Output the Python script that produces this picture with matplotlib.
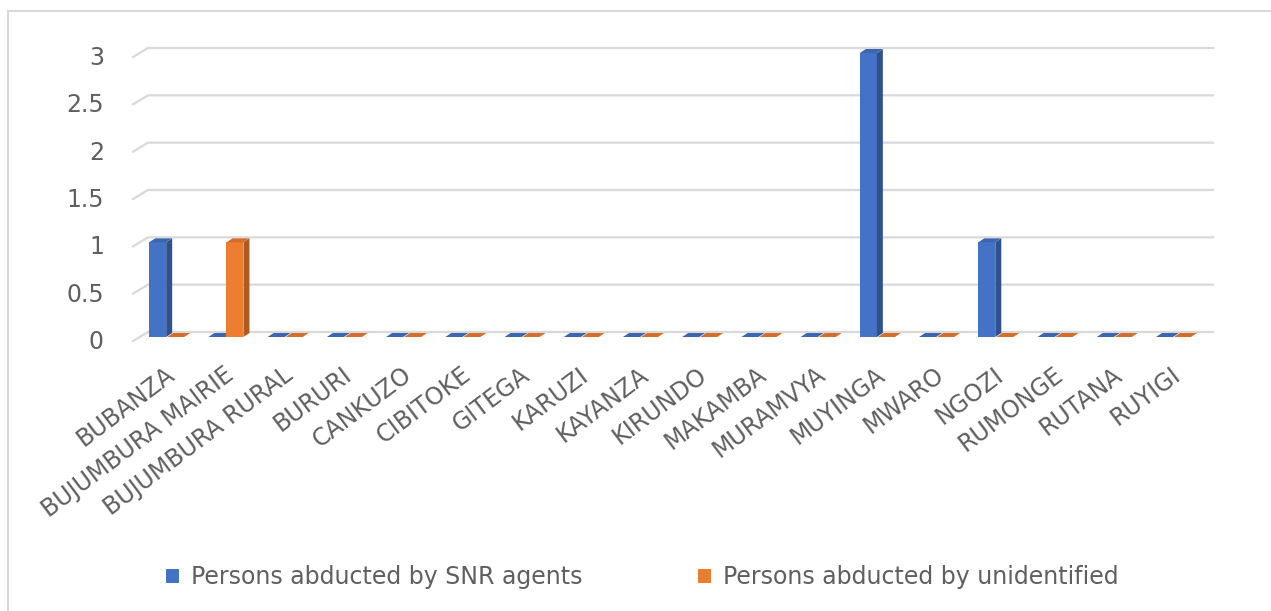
import numpy as np
import matplotlib.pyplot as plt
from matplotlib.patches import Polygon, Patch, Rectangle
import matplotlib.transforms as mtransforms

# data
provinces = ['BUBANZA', 'BUJUMBURA MAIRIE', 'BUJUMBURA RURAL', 'BURURI', 'CANKUZO',
             'CIBITOKE', 'GITEGA', 'KARUZI', 'KAYANZA', 'KIRUNDO', 'MAKAMBA',
             'MURAMVYA', 'MUYINGA', 'MWARO', 'NGOZI', 'RUMONGE', 'RUTANA', 'RUYIGI']
snr_agents = [1, 0, 0, 0, 0, 0, 0, 0, 0, 0, 0, 0, 3, 0, 1, 0, 0, 0]
unidentified = [0, 1, 0, 0, 0, 0, 0, 0, 0, 0, 0, 0, 0, 0, 0, 0, 0, 0]
yticks = [0, 0.5, 1, 1.5, 2, 2.5, 3]
ytick_labels = ['0', '0.5', '1', '1.5', '2', '2.5', '3']
series_names = ['Persons abducted by SNR agents', 'Persons abducted by unidentified']

W, H = 1271, 611
fig = plt.figure(figsize=(W / 100, H / 100), dpi=100)
plt.rcParams['font.family'] = ['DejaVu Sans']

# plot area (pixels from top-left)
left_px, right_px = 140, 1206
zero_px, top_px = 337, 53
ax = fig.add_axes([left_px / W, 1 - zero_px / H, (right_px - left_px) / W, (zero_px - top_px) / H])
n = len(provinces)
ax.set_xlim(-0.5, n - 0.5)
ax.set_ylim(0, 3)
ax.axis('off')

px_x = (n) / (right_px - left_px)   # data units per pixel in x
px_y = 3 / (zero_px - top_px)       # data units per pixel in y

grid_col = '#D9D9D9'
text_col = '#5f5f5f'
fs = 17

# back wall gridlines with a small diagonal into the floor
for v in yticks:
    yb = v + 5 * px_y
    yf = v - 4 * px_y
    xb0 = -0.5 + 8 * px_x
    xb1 = n - 0.5 + 7 * px_x
    xf0 = -0.5 - 7 * px_x
    ax.plot([xf0, xb0, xb1], [yf, yb, yb], color=grid_col, lw=1.6, clip_on=False, zorder=1)

# y labels
lab_tr = mtransforms.offset_copy(ax.transData, fig=fig, x=-36, y=-5, units='dots')
for v, lab in zip(yticks, ytick_labels):
    ax.text(-0.5, v, lab, transform=lab_tr, ha='right', va='center',
            fontsize=fs, color=text_col)

# pseudo 3d bars
w = 17 * px_x
dx = 6 * px_x
dy = 4 * px_y
styles = [
    (snr_agents, -0.345, '#4472C4', '#2F528F', '#3C66B0'),
    (unidentified, -0.04, '#ED7D31', '#AE5A21', '#D46E2A'),
]
for vals, off, face, side, top in styles:
    for i, v in enumerate(vals):
        x0 = i + off
        x1 = x0 + w
        ax.add_patch(Rectangle((x0, 0), w, v, facecolor=face, edgecolor='none', zorder=3, clip_on=False))
        ax.add_patch(Polygon([(x1, 0), (x1 + dx, dy), (x1 + dx, v + dy), (x1, v)],
                             facecolor=side, edgecolor='none', zorder=3, clip_on=False))
        ax.add_patch(Polygon([(x0, v), (x1, v), (x1 + dx, v + dy), (x0 + dx, v + dy)],
                             facecolor=top, edgecolor='none', zorder=3, clip_on=False))

# category labels
cat_tr = mtransforms.offset_copy(ax.transData, fig=fig, x=2, y=-35, units='dots')
for i, name in enumerate(provinces):
    ax.text(i, 0, name, transform=cat_tr, rotation=37, rotation_mode='anchor',
            ha='right', va='center', fontsize=fs, color=text_col)

# legend
handles = [Patch(facecolor='#4472C4', label=series_names[0]),
           Patch(facecolor='#ED7D31', label=series_names[1])]
fig.legend(handles=handles, loc='center', bbox_to_anchor=(642 / W, 1 - 577 / H), ncol=2,
           frameon=False, fontsize=fs, labelcolor=text_col, handlelength=0.55,
           handleheight=0.55, handletextpad=0.5, columnspacing=4.9)

# chart border
fig.add_artist(Rectangle((8 / W, -0.1), 1.2, 1.1 - 11 / H, transform=fig.transFigure,
                         fill=False, edgecolor=grid_col, lw=1.5))

fig.savefig('out.png', dpi=100)
